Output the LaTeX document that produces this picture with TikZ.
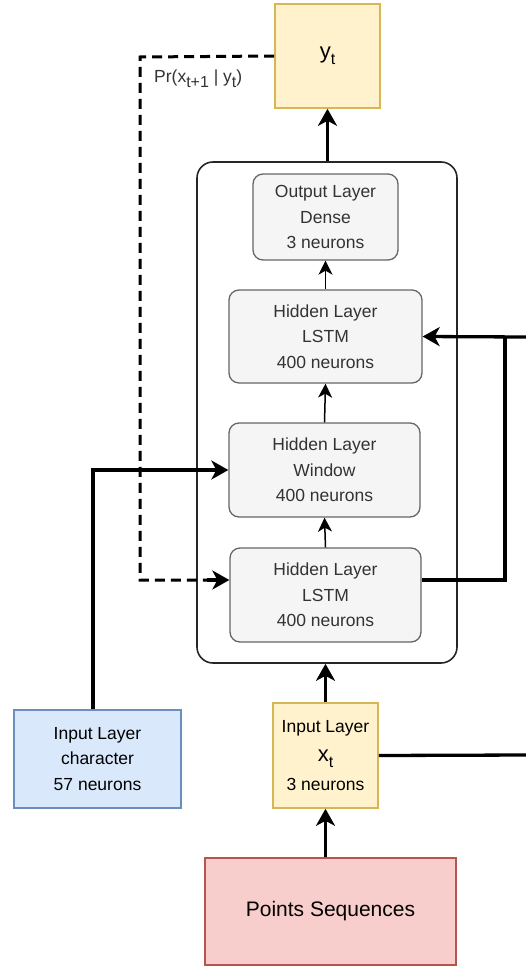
\documentclass[tikz,border=0pt]{standalone}
\usepackage{fontspec}
\setmainfont{Liberation Sans}
\usetikzlibrary{arrows.meta}
\newcommand\lowsub[1]{\raisebox{-0.5ex}{\fontsize{16}{16}\selectfont #1}}
\definecolor{txt}{HTML}{333333}
\tikzset{
  layerbox/.style={draw=black!60, fill=black!4, rounded corners=10pt, line width=1.3pt,
    text=txt, align=center, font=\fontsize{17.5}{25.5}\selectfont, inner sep=0pt},
  inbox/.style={line width=1.6pt, align=center, font=\fontsize{17.5}{25.5}\selectfont, inner sep=0pt},
  thin arrow/.style={line width=1.5pt, -{Stealth[length=14pt,width=14pt,inset=4pt]}},
  thick arrow/.style={line width=3.3pt, -{Stealth[length=17pt,width=19pt,inset=5pt]}},
  thick line/.style={line width=3.3pt},
}
\begin{document}
\begin{tikzpicture}[x=1pt,y=-1pt]
\useasboundingbox (0,0) rectangle (526,966);

% output symbol
\node[inbox, draw={rgb,255:red,214;green,182;blue,86}, fill={rgb,255:red,255;green,242;blue,204},
  minimum width=105pt, minimum height=104pt] (yt) at (327.5,56) {\fontsize{22}{22}\selectfont y\lowsub{t}};

% network container
\node[draw=black!85, line width=1.6pt, rounded corners=16pt, minimum width=260pt,
  minimum height=501pt, inner sep=0pt] (net) at (327,412.5) {};

% layers
\node[layerbox, minimum width=145pt, minimum height=86pt] (dense) at (325.5,217) {Output Layer\\Dense\\3 neurons};
\node[layerbox, minimum width=193pt, minimum height=93pt] (lstmB) at (325.5,336.5) {Hidden Layer\\LSTM\\400 neurons};
\node[layerbox, minimum width=191pt, minimum height=94pt] (win) at (324.5,470) {Hidden Layer\\Window\\400 neurons};
\node[layerbox, minimum width=191pt, minimum height=94pt] (lstmA) at (325.5,595) {Hidden Layer\\LSTM\\400 neurons};

% inputs
\node[inbox, draw={rgb,255:red,108;green,142;blue,191}, fill={rgb,255:red,218;green,232;blue,252},
  minimum width=167pt, minimum height=98pt] (char) at (97.5,759) {Input Layer\\character\\57 neurons};
\node[inbox, draw={rgb,255:red,214;green,182;blue,86}, fill={rgb,255:red,255;green,242;blue,204},
  minimum width=105pt, minimum height=105pt] (xt) at (325.5,755.5)
  {\raisebox{6pt}{Input Layer}\\[-2pt]{\fontsize{22}{22}\selectfont x\lowsub{t}}\\[3pt]3 neurons};
\node[inbox, draw={rgb,255:red,184;green,84;blue,80}, fill={rgb,255:red,248;green,206;blue,204},
  minimum width=251pt, minimum height=107pt, font=\fontsize{21}{25}\selectfont] (pts) at (330.5,911.5) {Points Sequences};

% connectors inside the network
\draw[thin arrow] (lstmB.north) -- (dense.south);
\draw[thin arrow] (win.north) -- (lstmB.south);
\draw[thin arrow] (lstmA.north) -- (win.south);

% main flow
\draw[thick arrow] (pts.north -| xt.south) -- (xt.south);
\draw[thick arrow] (xt.north) -- (xt.north |- net.south);
\draw[thick arrow] (net.north -| yt.south) -- (yt.south);

% character input into the window layer
\draw[thick arrow] ([xshift=-4.5pt]char.north) |- (win.west);

% recurrent feedback of the sampled output
\draw[line width=3pt, dash pattern=on 10pt off 6pt] (yt.west) -- (140,57) -- (140,580) -- ([xshift=-14pt,yshift=15pt]lstmA.west);
\draw[thick arrow] ([xshift=-22pt,yshift=15pt]lstmA.west) -- ([yshift=15pt]lstmA.west);
\node[anchor=west, font=\fontsize{17.5}{17.5}\selectfont, text=txt, inner sep=0pt] (pr) at (154,79)
  {Pr(x\lowsub{t+1} | y\lowsub{t})};

% skip connections on the right
\coordinate (jn) at (505,337);
\coordinate (edgeB) at (526,337);
\coordinate (edgeX) at (526,755);
\draw[thick line] ([yshift=15pt]lstmA.east) -| (jn);
\draw[thick arrow] (edgeB) -- (lstmB.east);
\draw[thick line] (xt.east) -- (edgeX);
\end{tikzpicture}
\end{document}
